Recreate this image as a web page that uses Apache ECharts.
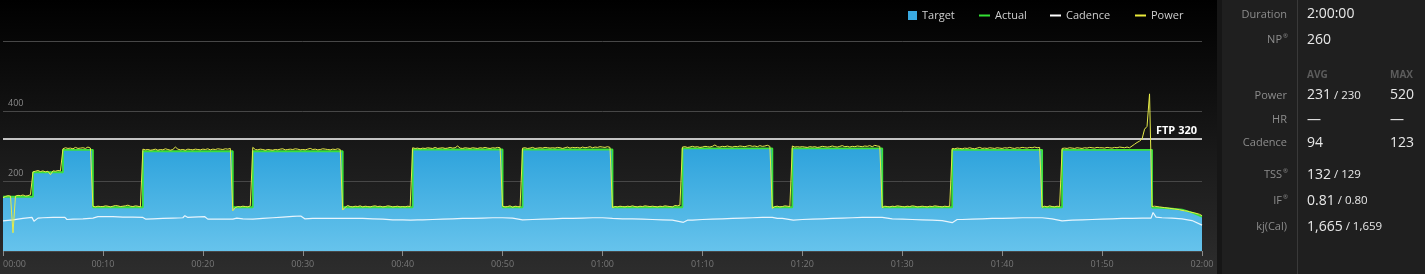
<!DOCTYPE html>
<html><head><meta charset="utf-8">
<script src="https://cdn.jsdelivr.net/npm/echarts@6/dist/echarts.min.js"></script>
<style>html,body{margin:0;padding:0;background:#1e1e1e;overflow:hidden}#c{width:1425px;height:274px}</style>
</head><body><div id="c"></div>
<script>
// ---------- DATA ----------
// Workout target (watts) as segments in minutes
const targetSegStart = [0,3,6,9,14,23,25,34,41,50,52,61,68,77,79,88,95,104,106,115,116,117,118,119];
const targetSegEnd   = [3,6,9,14,23,25,34,41,50,52,61,68,77,79,88,95,104,106,115,116,117,118,119,120];
const targetSegFrom  = [155,225,289,125,285,125,285,125,290,125,290,125,293,125,293,125,289,125,289,124,123,121,118,110];
const targetSegTo    = [155,225,289,125,285,125,285,125,290,125,290,125,293,125,293,125,289,125,289,123,121,118,110,98];

// Measured power (watts), one sample every 15 s (0.25 min)
const POWER_STEP_MIN = 0.25;
const powerWatts = [
 152,156,158,157,52,157,159,158,160,157,158,161,226,228,230,227,229,226,228,218,
 229,228,230,229,292,295,293,294,292,296,293,294,295,293,297,294,128,126,128,127,
 127,129,128,126,128,130,129,127,128,129,131,128,127,129,128,126,291,289,290,288,
 289,291,288,290,289,292,290,288,290,297,291,289,290,288,291,290,289,291,290,289,
 291,290,292,289,291,290,292,291,290,292,291,293,115,124,127,126,128,127,126,129,
 296,290,289,291,290,288,290,289,288,290,289,291,292,289,290,291,290,292,291,289,
 290,289,291,293,290,291,289,290,292,291,290,289,291,290,292,290,117,125,130,127,
 126,128,127,129,126,128,127,126,128,129,127,128,126,127,129,128,126,127,128,126,
 127,126,128,127,295,293,294,292,294,293,295,294,293,296,293,294,295,293,294,296,
 294,295,300,294,293,295,294,293,295,294,293,295,294,296,294,293,295,294,296,295,
 128,126,127,129,125,128,127,126,294,295,293,294,296,293,294,295,294,296,295,294,
 295,294,296,295,293,295,297,294,296,295,296,294,297,295,296,298,295,297,296,298,
 297,296,298,296,124,127,126,128,127,126,128,127,129,127,126,128,127,129,128,127,
 128,127,126,128,127,129,128,127,126,130,129,131,297,298,296,297,299,297,298,296,
 297,299,298,297,299,303,298,297,299,298,300,298,297,299,298,300,299,298,300,301,
 299,300,298,301,299,300,302,299,122,127,128,126,127,129,128,127,300,297,298,297,
 298,297,296,298,297,298,296,297,299,298,297,298,300,298,297,299,301,298,299,297,
 299,298,300,299,298,300,299,301,298,302,300,299,124,128,127,126,128,127,129,128,
 127,126,128,127,129,128,126,127,128,127,126,128,127,129,128,127,126,128,127,128,
 293,292,294,293,292,294,293,295,293,292,294,296,293,294,293,295,294,293,295,294,
 293,295,294,296,294,293,295,294,296,295,294,296,295,297,295,296,125,128,126,129,
 127,126,128,127,293,294,293,295,294,293,295,294,293,295,294,296,295,294,296,295,
 295,294,296,295,294,296,295,297,296,295,297,295,300,305,310,314,320,348,356,449,
 127,128,127,126,125,124,123,122,121,120,119,118,116,115,114,112,110,109,107,105,
 101
];

// Cadence (rpm) as [minute, rpm]
const cadence = [[0,86],[1,89],[2,93],[2.9,96],[3.1,85],[3.5,94],[4,95],[5,96],[6.2,96],[6.4,90],[7,91],[8,92],[9,94],[9.5,98],[10,98],[11,98],[12,97],[13,97],[14,96],[14.3,91],[15,92],[16,93],[17,94],[18,95],[18.2,101],[18.5,96],[19,97],[20.2,98],[20.5,91],[21,91],[22,91],[23,91],[23.4,94],[24,92],[25,91],[26,93],[27,95],[28,97],[29,99],[29.8,100],[30.2,92],[31,93],[32,93],[33,93],[34,93],[35,93],[36,93],[37,92],[38,91],[39,89],[40,89],[40.8,88],[41,93],[41.5,89],[42,89],[43,90],[44,91],[45,92],[46,93],[47,93],[48,94],[49,95],[50,95],[51,94],[52,89],[53,90],[54,91],[55,92],[56,93],[57,93],[58,94],[59,95],[60,95],[61,93],[62,92],[63,92],[64,91],[65,90],[66,89],[67,88],[68.1,82],[68.5,88],[69,88],[70,90],[71,91],[72,92],[73,93],[74,94],[75,95],[76,96],[77,96],[77.5,93],[78,93],[79.1,88],[80,90],[81,91],[82,92],[83,93],[84,94],[85,95],[86,96],[87,96],[88,96],[88.2,93],[89,92],[90,91],[91,90],[92,89],[93,88],[94,87],[95,81],[95.5,90],[96,90],[97,91],[98,92],[99,93],[100,93],[101,94],[102,95],[103,95],[104,95],[104.2,93],[105,92],[106,86],[107,88],[108,89],[109,90],[110,91],[111,92],[112,93],[113,93],[114,94],[114.9,94],[115.1,110],[115.4,97],[116,95],[117,94],[118,92],[119,87],[120,74]];

const ftpWatts = 320;
const legendNames = ['Target','Actual','Cadence','Power'];

// Summary panel
const statLabels = ['Duration','NP','Power','HR','Cadence','TSS','IF','kj(Cal)'];
const statSup    = [false,true,false,false,false,true,true,false];
const statMain   = ['2:00:00','260','231','—','94','132','0.81','1,665'];
const statPlan   = ['','','230','','','129','0.80','1,659'];
const statMax    = ['','','520','—','123','','',''];
const statHeaders = ['AVG','MAX'];

// ---------- CHART ----------
const FONT = "'Open Sans', 'DejaVu Sans', sans-serif";
const targetPts = [];
for (let i = 0; i < targetSegStart.length; i++) {
  targetPts.push([targetSegStart[i], targetSegFrom[i]]);
  targetPts.push([targetSegEnd[i], targetSegTo[i]]);
}
const powerPts = powerWatts.map((v, i) => [i * POWER_STEP_MIN, v]);

function fmtTime(v) {
  const h = Math.floor(v / 60), m = Math.round(v % 60);
  return String(h).padStart(2, '0') + ':' + String(m).padStart(2, '0');
}

const chart = echarts.init(document.getElementById('c'), null, {renderer: 'canvas'});

const rowY = [14.5, 40, 95.5, 120, 143, 175, 201, 227];
const graphics = [
  {type: 'rect', z: -10, silent: true, shape: {x: 1217, y: 0, width: 5, height: 274}, style: {fill: '#161616'}},
  {type: 'rect', z: -10, silent: true, shape: {x: 1222, y: 0, width: 203, height: 274}, style: {fill: '#1f1f1f'}},
  {type: 'line', z: 1, silent: true, shape: {x1: 1297.5, y1: 0, x2: 1297.5, y2: 274}, style: {stroke: '#393939', lineWidth: 1}},
  {type: 'text', z: 2, x: 1307, y: 75, style: {text: statHeaders[0], fill: '#5c5c5c', font: 'bold 10px ' + FONT, textAlign: 'left', textVerticalAlign: 'middle'}},
  {type: 'text', z: 2, x: 1390, y: 75, style: {text: statHeaders[1], fill: '#5c5c5c', font: 'bold 10px ' + FONT, textAlign: 'left', textVerticalAlign: 'middle'}}
];
statLabels.forEach((lab, i) => {
  const rx = statSup[i] ? 1282 : 1287;
  graphics.push({type: 'text', z: 2, x: rx, y: rowY[i], style: {text: lab, fill: '#8c8c8c', font: '11px ' + FONT, textAlign: 'right', textVerticalAlign: 'middle'}});
  if (statSup[i]) {
    graphics.push({type: 'text', z: 2, x: 1283, y: rowY[i] - 4, style: {text: '®', fill: '#8c8c8c', font: '6px ' + FONT, textAlign: 'left', textVerticalAlign: 'middle'}});
  }
  const txt = statPlan[i] ? '{a|' + statMain[i] + '}{b| / ' + statPlan[i] + '}' : '{a|' + statMain[i] + '}';
  graphics.push({type: 'text', z: 2, x: 1307, y: rowY[i], style: {
    text: txt, textAlign: 'left', textVerticalAlign: 'middle',
    rich: {a: {fill: '#e8e8e8', fontSize: 14, fontFamily: FONT}, b: {fill: '#e8e8e8', fontSize: 11.5, fontFamily: FONT}}
  }});
  if (statMax[i]) {
    graphics.push({type: 'text', z: 2, x: 1390, y: rowY[i], style: {text: statMax[i], fill: '#e8e8e8', font: '14px ' + FONT, textAlign: 'left', textVerticalAlign: 'middle'}});
  }
});

const legendPos = [908, 979, 1050, 1135];
const legendText = {color: '#cfcfcf', fontSize: 11, fontFamily: FONT};
const legends = legendNames.map((n, i) => ({
  data: [{name: n, icon: 'rect'}],
  left: legendPos[i], top: 10, padding: 0, selectedMode: false,
  itemWidth: i === 0 ? 9 : 11, itemHeight: i === 0 ? 9 : 2,
  textStyle: legendText
}));

chart.setOption({
  animation: false,
  backgroundColor: new echarts.graphic.LinearGradient(0, 0, 0, 1, [
    {offset: 0, color: '#000000'}, {offset: 1, color: '#2d2d2d'}]),
  legend: legends,
  grid: {left: 2, right: 223, top: 41, bottom: 23, containLabel: false},
  xAxis: {
    type: 'value', min: 0, max: 120, interval: 10,
    axisLine: {show: false},
    axisTick: {show: true, length: 5, lineStyle: {color: '#8a8a8a'}},
    axisLabel: {color: '#777777', fontSize: 9, fontFamily: FONT, margin: 9, formatter: fmtTime,
      alignMinLabel: 'left', alignMaxLabel: 'center', showMinLabel: true, showMaxLabel: true},
    splitLine: {show: false}
  },
  yAxis: {
    type: 'value', min: 0, max: 600, interval: 200,
    axisLine: {show: false}, axisTick: {show: false},
    splitLine: {lineStyle: {color: '#474747', width: 1}},
    axisLabel: {inside: true, color: '#8a8a8a', fontSize: 9, fontFamily: FONT, margin: 5,
      verticalAlign: 'bottom', padding: [0, 0, 3, 0],
      formatter: v => (v === 0 || v === 600) ? '' : String(v)}
  },
  graphic: graphics,
  series: [
    {name: 'Target', type: 'line', data: targetPts, symbol: 'none', z: 2,
      itemStyle: {color: '#3aa9e0'}, lineStyle: {width: 0},
      areaStyle: {opacity: 1, color: new echarts.graphic.LinearGradient(0, 0, 0, 1, [
        {offset: 0, color: '#2ea3dc'}, {offset: 1, color: '#66c3ec'}])},
      markLine: {silent: true, symbol: ['none', 'none'], data: [{yAxis: ftpWatts}],
        lineStyle: {color: '#ffffff', width: 1.5, type: 'solid'},
        label: {position: 'insideEndTop', formatter: 'FTP ' + ftpWatts, color: '#ffffff',
          fontWeight: 'bold', fontSize: 11, fontFamily: FONT, distance: [5, 3]}}},
    {name: 'Cadence', type: 'line', data: cadence, symbol: 'none', z: 3,
      itemStyle: {color: '#ffffff'}, lineStyle: {color: '#e8f5fd', width: 1.2}},
    {name: 'Actual', type: 'line', data: targetPts, symbol: 'none', z: 4,
      itemStyle: {color: '#33e033'}, lineStyle: {color: '#3be03b', width: 1.8}},
    {name: 'Power', type: 'line', data: powerPts, symbol: 'none', z: 5,
      itemStyle: {color: '#eaea3a'}, lineStyle: {color: '#e6ec48', width: 1}}
  ]
});
</script></body></html>
